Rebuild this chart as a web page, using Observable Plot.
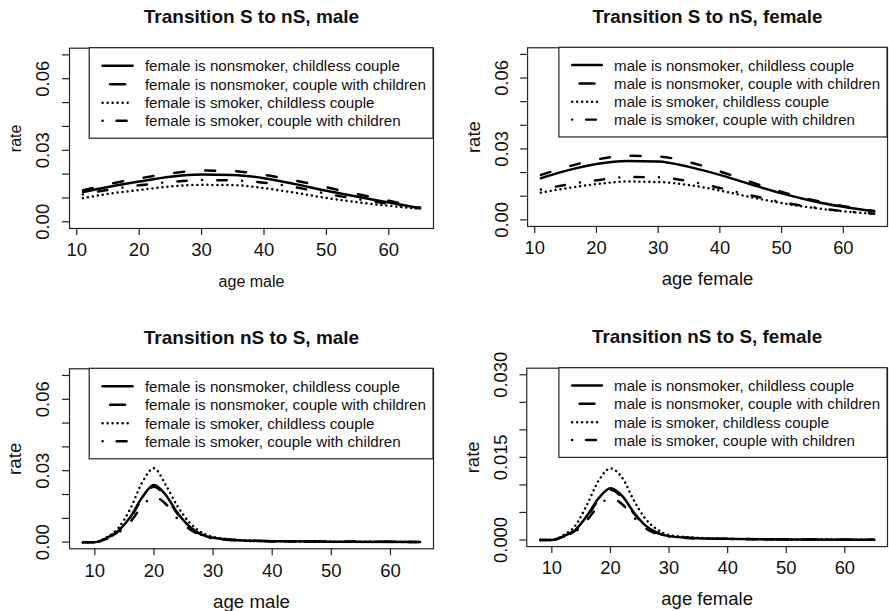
<!DOCTYPE html>
<html><head><meta charset="utf-8">
<script src="https://cdn.jsdelivr.net/npm/d3@7"></script>
<script src="https://cdn.jsdelivr.net/npm/@observablehq/plot@0.6"></script>
<style>
html,body{margin:0;padding:0;background:#fff;}
#root{position:relative;width:889px;height:611px;overflow:hidden;background:#fff;font-family:"Liberation Sans",Arial,Helvetica,sans-serif;}
.panel{position:absolute;}
.panel svg{overflow:visible;}
</style></head><body><div id="root"></div>
<script>
// ---------- data ----------
const agesTop = [11, 15, 20, 25, 30, 35, 40, 45, 50, 55, 60, 65];
const agesBottom = [8, 10, 12, 14, 16, 18, 20, 22, 24, 26, 28, 30, 35, 40, 50, 65];

// Transition S to nS, male
const snsMale_nonsmokerChildless = [0.0125,0.0146,0.0169,0.0189,0.0198,0.0196,0.0183,0.0158,0.0130,0.0105,0.0081,0.0057];
const snsMale_nonsmokerChildren  = [0.0132,0.0157,0.0182,0.0203,0.0215,0.0213,0.0197,0.0173,0.0145,0.0116,0.0088,0.0060];
const snsMale_smokerChildless    = [0.0099,0.0117,0.0133,0.0148,0.0155,0.0154,0.0141,0.0122,0.0100,0.0082,0.0067,0.0054];
const snsMale_smokerChildren     = [0.0115,0.0134,0.0153,0.0167,0.0175,0.0174,0.0164,0.0145,0.0118,0.0095,0.0076,0.0057];

// Transition S to nS, female
const snsFemale_nonsmokerChildless = [0.0176,0.0207,0.0236,0.0249,0.0247,0.0224,0.0190,0.0150,0.0112,0.0080,0.0055,0.0035];
const snsFemale_nonsmokerChildren  = [0.0190,0.0222,0.0255,0.0271,0.0268,0.0244,0.0205,0.0160,0.0118,0.0084,0.0058,0.0037];
const snsFemale_smokerChildless    = [0.0115,0.0133,0.0151,0.0162,0.0160,0.0147,0.0124,0.0096,0.0071,0.0051,0.0036,0.0025];
const snsFemale_smokerChildren     = [0.0128,0.0148,0.0167,0.0181,0.0180,0.0163,0.0135,0.0104,0.0075,0.0053,0.0037,0.0026];

// Transition nS to S, male
const nssMale_nonsmokerChildless = [0,0,0.0017,0.0048,0.0105,0.0188,0.0240,0.0198,0.0122,0.0066,0.0033,0.0018,0.0007,0.0004,0.0002,0.0001];
const nssMale_nonsmokerChildren  = [0,0,0.0016,0.0046,0.0101,0.0182,0.0233,0.0192,0.0118,0.0064,0.0032,0.0017,0.0007,0.0004,0.0002,0.0001];
const nssMale_smokerChildless    = [0,0,0.0020,0.0060,0.0140,0.0250,0.0310,0.0240,0.0150,0.0083,0.0042,0.0022,0.0008,0.0004,0.0002,0.0001];
const nssMale_smokerChildren     = [0,0,0.0014,0.0040,0.0085,0.0150,0.0190,0.0160,0.0098,0.0055,0.0028,0.0015,0.0006,0.0003,0.0002,0.0001];

// Transition nS to S, female
const nssFemale_nonsmokerChildless = [0,0,0.0007,0.0018,0.0044,0.0076,0.0094,0.0080,0.0050,0.0026,0.0013,0.0007,0.0003,0.0002,0.0001,0.00005];
const nssFemale_nonsmokerChildren  = [0,0,0.0007,0.0017,0.0042,0.0073,0.0091,0.0077,0.0048,0.0025,0.0013,0.0007,0.0003,0.0002,0.0001,0.00005];
const nssFemale_smokerChildless    = [0,0,0.0009,0.0026,0.0064,0.0108,0.0130,0.0113,0.0072,0.0038,0.0019,0.0009,0.0004,0.0002,0.0001,0.00005];
const nssFemale_smokerChildren     = [0,0,0.0006,0.0015,0.0036,0.0062,0.0076,0.0065,0.0041,0.0021,0.0011,0.0006,0.0003,0.0002,0.0001,0.00005];

const legendMale = ["female is nonsmoker, childless couple","female is nonsmoker, couple with children","female is smoker, childless couple","female is smoker, couple with children"];
const legendFemale = ["male is nonsmoker, childless couple","male is nonsmoker, couple with children","male is smoker, childless couple","male is smoker, couple with children"];

const titles = ["Transition S to nS, male","Transition S to nS, female","Transition nS to S, male","Transition nS to S, female"];
const xLabels = ["age male","age female","age male","age female"];
const yLabel = "rate";

const xTicks = [10, 20, 30, 40, 50, 60];
const yTicksWide = [0, 0.01, 0.02, 0.03, 0.04, 0.05, 0.06, 0.07];
const yLabelsWide = [0, 0.03, 0.06];
const yTicksNarrow = [0, 0.005, 0.01, 0.015, 0.02, 0.025, 0.03];
const yLabelsNarrow = [0, 0.015, 0.03];

// ---------- styles ----------
const dashes = [null, "10,21", "0.01,5", "0.01,15.3,9.4,15.3"];
const legendDash = [null, "15,100", "0.01,5", "0.01,14,10,100"];
const legendOffset = [0, 7.5, 0, 0];
const FONT = '"Liberation Sans", Arial, Helvetica, sans-serif';

function panel(o) {
  const root = document.getElementById("root");
  const div = document.createElement("div");
  div.className = "panel";
  div.style.left = o.left + "px";
  div.style.top = o.top + "px";
  root.appendChild(div);
  const m = o.margin;
  const marks = [
    ...o.series.map((vals, i) => Plot.line(o.ages.map((a, j) => ({age: a, rate: vals[j]})), {
      x: "age", y: "rate", stroke: "black", strokeWidth: 2.5,
      strokeDasharray: dashes[i] || undefined, strokeLinecap: "round", strokeLinejoin: "round",
      curve: "monotone-x"
    })),
    Plot.frame({stroke: "#222", strokeWidth: 1.2}),
    Plot.axisX(xTicks, {tickSize: 7, tickFormat: () => "", label: null, stroke: "#222", strokeWidth: 1.2}),
    Plot.axisY(o.yTicks, {tickSize: 7, tickFormat: () => "", label: null, stroke: "#222", strokeWidth: 1.2}),
    Plot.text(xTicks, {x: d => d, text: d => String(d), frameAnchor: "bottom", dy: 22, fontSize: 18.5, textAnchor: "middle", lineAnchor: "middle", fill: "#111"}),
    Plot.text(o.yLabels, {y: d => d, text: d => o.yFmt(d), frameAnchor: "left", dx: -26, rotate: -90, fontSize: 18.5, textAnchor: "middle", lineAnchor: "middle", fill: "#111"}),
    Plot.text([o.xLabel], {text: d => d, frameAnchor: "bottom", dy: 53, fontSize: o.axisLabelSize, textAnchor: "middle", lineAnchor: "middle", fill: "#111"}),
    Plot.text([yLabel], {text: d => d, frameAnchor: "left", dx: -54, rotate: -90, fontSize: o.axisLabelSize, textAnchor: "middle", lineAnchor: "middle", fill: "#111"}),
    Plot.text([o.title], {text: d => d, frameAnchor: "top", dy: -31, fontSize: 19, fontWeight: "bold", textAnchor: "middle", lineAnchor: "middle", fill: "#111"})
  ];
  const svg = Plot.plot({
    width: o.width, height: o.height,
    marginLeft: m[0], marginRight: m[1], marginTop: m[2], marginBottom: m[3],
    x: {domain: o.xDomain},
    y: {domain: o.yDomain},
    style: {fontFamily: FONT, background: "transparent", overflow: "visible", color: "#111"},
    marks
  });
  div.appendChild(svg);

  // legend (top-right of frame)
  const frameRight = o.width - m[1];
  const frameTop = m[2];
  const g = d3.select(svg).append("g").attr("font-family", FONT).attr("font-size", 15.2).attr("text-anchor", "start");
  const rect = g.append("rect");
  const rows = [18, 36.5, 55, 73];
  const texts = o.labels.map((lab) => g.append("text").text(lab)
    .attr("text-anchor", "start").attr("dominant-baseline", "central").attr("fill", "#111"));
  const maxW = d3.max(texts, t => t.node().getComputedTextLength());
  const boxW = maxW + 55.7 + 7;
  const boxL = frameRight - boxW;
  rect.attr("x", boxL).attr("y", frameTop).attr("width", boxW).attr("height", 90.5)
    .attr("fill", "white").attr("stroke", "#222").attr("stroke-width", 1.2);
  texts.forEach((t, i) => t.attr("x", boxL + 55.7).attr("y", frameTop + rows[i]));
  o.labels.forEach((lab, i) => {
    const ln = g.append("line")
      .attr("x1", boxL + 13.4 + legendOffset[i]).attr("x2", boxL + 43.4)
      .attr("y1", frameTop + rows[i]).attr("y2", frameTop + rows[i])
      .attr("stroke", "black").attr("stroke-width", 2.5).attr("stroke-linecap", "round");
    if (legendDash[i]) ln.attr("stroke-dasharray", legendDash[i]);
  });
}

const fmt2 = d3.format(".2f"), fmt3 = d3.format(".3f");

panel({left: 0, top: 0, width: 445, height: 300, margin: [69, 12, 47.7, 72],
  xDomain: [8.84, 67.16], yDomain: [-0.0028, 0.0728], ages: agesTop,
  series: [snsMale_nonsmokerChildless, snsMale_nonsmokerChildren, snsMale_smokerChildless, snsMale_smokerChildren],
  labels: legendMale, yTicks: yTicksWide, yLabels: yLabelsWide, yFmt: fmt2,
  title: titles[0], xLabel: xLabels[0], axisLabelSize: 16});

panel({left: 445, top: 0, width: 448, height: 300, margin: [82.8, 2, 47.7, 72],
  xDomain: [8.84, 67.16], yDomain: [-0.0028, 0.0728], ages: agesTop,
  series: [snsFemale_nonsmokerChildless, snsFemale_nonsmokerChildren, snsFemale_smokerChildless, snsFemale_smokerChildren],
  labels: legendFemale, yTicks: yTicksWide, yLabels: yLabelsWide, yFmt: fmt2,
  title: titles[1], xLabel: xLabels[1], axisLabelSize: 18.7});

panel({left: 0, top: 300, width: 445, height: 311, margin: [69, 12, 68.3, 62.7],
  xDomain: [5.72, 67.28], yDomain: [-0.0028, 0.0728], ages: agesBottom,
  series: [nssMale_nonsmokerChildless, nssMale_nonsmokerChildren, nssMale_smokerChildless, nssMale_smokerChildren],
  labels: legendMale, yTicks: yTicksWide, yLabels: yLabelsWide, yFmt: fmt2,
  title: titles[2], xLabel: xLabels[2], axisLabelSize: 18.7});

panel({left: 445, top: 300, width: 448, height: 311, margin: [82, 2, 68.3, 62.7],
  xDomain: [5.72, 67.28], yDomain: [-0.0012, 0.0312], ages: agesBottom,
  series: [nssFemale_nonsmokerChildless, nssFemale_nonsmokerChildren, nssFemale_smokerChildless, nssFemale_smokerChildren],
  labels: legendFemale, yTicks: yTicksNarrow, yLabels: yLabelsNarrow, yFmt: fmt3,
  title: titles[3], xLabel: xLabels[3], axisLabelSize: 18.7});
</script></body></html>
